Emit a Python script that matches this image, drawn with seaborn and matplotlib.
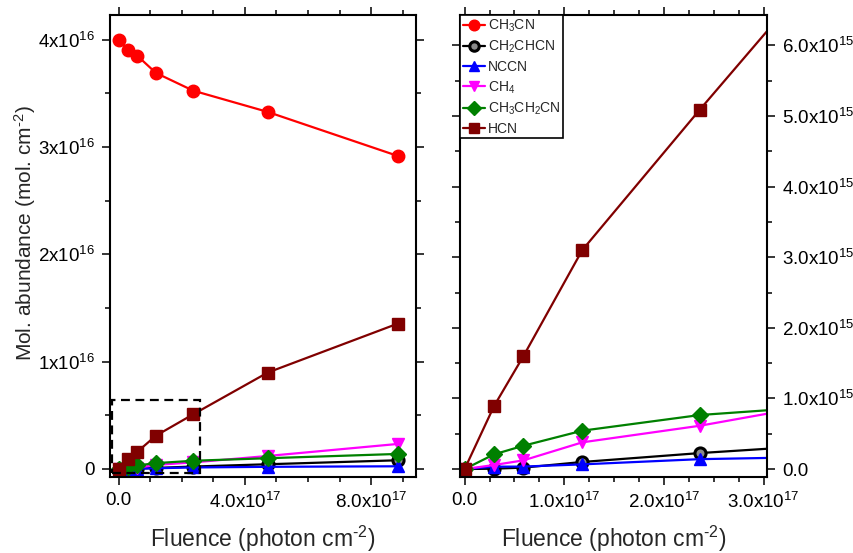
import matplotlib
matplotlib.use("Agg")
import matplotlib.pyplot as plt
from matplotlib.ticker import FixedLocator, MultipleLocator
from matplotlib.patches import Rectangle
import seaborn as sns
import pandas as pd

# ---------------- data ----------------
fluence = [0.0, 0.295e17, 0.59e17, 1.18e17, 2.36e17, 4.72e17, 8.84e17]

ch3cn    = [4.00e16, 3.905e16, 3.85e16, 3.69e16, 3.525e16, 3.327e16, 2.917e16]
ch2chcn  = [0.0, 0.005e15, 0.02e15, 0.10e15, 0.226e15, 0.44e15, 0.81e15]
nccn     = [0.0, 0.033e15, 0.035e15, 0.066e15, 0.14e15, 0.20e15, 0.25e15]
ch4      = [0.0, 0.057e15, 0.123e15, 0.378e15, 0.613e15, 1.21e15, 2.33e15]
ch3ch2cn = [0.0, 0.208e15, 0.33e15, 0.543e15, 0.765e15, 1.00e15, 1.40e15]
hcn      = [0.0, 0.892e15, 1.60e15, 3.10e15, 5.09e15, 8.98e15, 1.354e16]

series_names = ["CH$_3$CN", "CH$_2$CHCN", "NCCN", "CH$_4$", "CH$_3$CH$_2$CN", "HCN"]
series_values = [ch3cn, ch2chcn, nccn, ch4, ch3ch2cn, hcn]

left_xticks = [0.0, 4.0e17, 8.0e17]
left_xticklabels = ["0.0", "4.0x10$^{17}$", "8.0x10$^{17}$"]
left_yticks = [0.0, 1e16, 2e16, 3e16, 4e16]
left_yticklabels = ["0", "1x10$^{16}$", "2x10$^{16}$", "3x10$^{16}$", "4x10$^{16}$"]
right_xticks = [0.0, 1e17, 2e17, 3e17]
right_xticklabels = ["0.0", "1.0x10$^{17}$", "2.0x10$^{17}$", "3.0x10$^{17}$"]
right_yticks = [0.0, 1e15, 2e15, 3e15, 4e15, 5e15, 6e15]
right_yticklabels = ["0.0", "1.0x10$^{15}$", "2.0x10$^{15}$", "3.0x10$^{15}$",
                     "4.0x10$^{15}$", "5.0x10$^{15}$", "6.0x10$^{15}$"]

# ---------------- styles ----------------
styles = [
    dict(color="#FF0000", marker="o", markersize=9, mfc="#FF0000", mec="#FF0000", mew=1),
    dict(color="#000000", marker="o", markersize=8, mfc="#8a8a8a", mec="#000000", mew=2.2),
    dict(color="#0000FF", marker="^", markersize=9, mfc="#0000FF", mec="#0000FF", mew=1),
    dict(color="#FF00FF", marker="v", markersize=9, mfc="#FF00FF", mec="#FF00FF", mew=1),
    dict(color="#008000", marker="D", markersize=8, mfc="#008000", mec="#008000", mew=1),
    dict(color="#800000", marker="s", markersize=8, mfc="#800000", mec="#800000", mew=1),
]

sns.set_style("ticks")
plt.rcParams["font.family"] = ["Liberation Sans", "DejaVu Sans"]
plt.rcParams["mathtext.fontset"] = "custom"
plt.rcParams["mathtext.rm"] = "Liberation Sans"
plt.rcParams["mathtext.it"] = "Liberation Sans"
plt.rcParams["mathtext.default"] = "regular"

fig = plt.figure(figsize=(8.54, 5.53), dpi=100)
axL = fig.add_axes([0.1288, 0.1374, 0.3583, 0.8355])
axR = fig.add_axes([0.5386, 0.1374, 0.3591, 0.8355])

for ax in (axL, axR):
    for name, vals, st in zip(series_names, series_values, styles):
        df = pd.DataFrame({"x": fluence, "y": vals})
        sns.lineplot(data=df, x="x", y="y", ax=ax, color=st["color"],
                     marker=st["marker"], markersize=st["markersize"],
                     markerfacecolor=st["mfc"], markeredgecolor=st["mec"],
                     markeredgewidth=st["mew"], linewidth=1.6,
                     label=name, legend=False, sort=False)

# limits
axL.set_xlim(-0.275e17, 9.42e17)
axL.set_ylim(-0.075e16, 4.23e16)
axR.set_xlim(-0.047e17, 3.03e17)
axR.set_ylim(-0.113e15, 6.43e15)

# ticks
axL.xaxis.set_major_locator(FixedLocator(left_xticks))
axL.set_xticklabels(left_xticklabels)
axL.xaxis.set_minor_locator(MultipleLocator(1e17))
axL.yaxis.set_major_locator(FixedLocator(left_yticks))
axL.set_yticklabels(left_yticklabels)
axL.yaxis.set_minor_locator(MultipleLocator(0.5e16))

axR.xaxis.set_major_locator(FixedLocator(right_xticks))
axR.set_xticklabels(right_xticklabels)
axR.xaxis.set_minor_locator(MultipleLocator(0.25e17))
axR.yaxis.set_major_locator(FixedLocator(right_yticks))
axR.set_yticklabels(right_yticklabels)
axR.yaxis.set_minor_locator(MultipleLocator(0.5e15))

for ax in (axL, axR):
    ax.tick_params(which="both", direction="out", top=True, right=True,
                   bottom=True, left=True, width=1.1, colors="black",
                   labelsize=13.5, pad=5)
    ax.tick_params(which="major", length=6)
    ax.tick_params(which="minor", length=3.5)
    for sp in ax.spines.values():
        sp.set_linewidth(1.5)
        sp.set_color("black")
        sp.set_visible(True)

axR.tick_params(axis="y", which="both", labelleft=False, labelright=True)

xlabel_text = r"Fluence (photon cm$^{\text{-2}}$)"
ylabel_text = r"Mol. abundance (mol. cm$^{\text{-2}}$)"
axL.set_xlabel(xlabel_text, fontsize=16.5, labelpad=8)
axR.set_xlabel(xlabel_text, fontsize=16.5, labelpad=8)
axL.set_ylabel(ylabel_text, fontsize=15)
axL.yaxis.set_label_coords(-0.235, 0.528)
axR.set_ylabel("")

# dashed zoom rectangle
axL.add_patch(Rectangle((-0.22e17, -0.035e16), 2.80e17, 0.678e16, fill=False,
                        edgecolor="black", linestyle=(0, (4, 2.5)), linewidth=1.6,
                        zorder=5))

# legend
handles, labels = axR.get_legend_handles_labels()
leg = axR.legend(handles[:6], labels[:6], loc="upper left", fontsize=10,
                 frameon=True, fancybox=False, borderaxespad=0.0,
                 handlelength=1.6, handletextpad=0.2, borderpad=0.2,
                 labelspacing=0.35, markerscale=0.85)
leg.get_frame().set_edgecolor("black")
leg.get_frame().set_linewidth(1.2)
leg.get_frame().set_alpha(1)

fig.savefig("out.png", dpi=100)
